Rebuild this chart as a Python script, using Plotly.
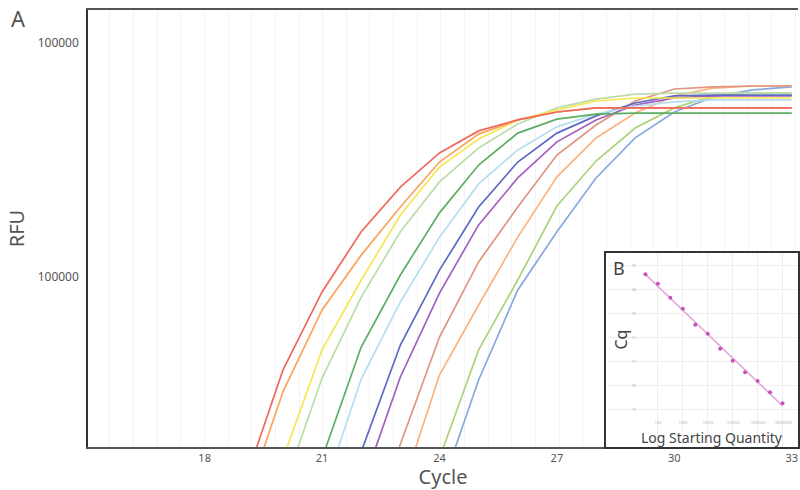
import numpy as np
import plotly.graph_objects as go

# ---------------- data ----------------
cycles = [18, 19, 20, 21, 22, 23, 24, 25, 26, 27, 28, 29, 30, 31, 32, 33]

red = [None, 1290, 4000, 8630, 15600, 24200, 33900, 42100, 46900, 50700, 52800, 52800, 52800, 52800, 52800, 52800]
orange = [None, 1040, 3230, 7230, 12400, 19900, 31000, 40800, 46900, 50700, 52800, 52800, 52800, 52800, 52800, 52800]
yellow = [None, None, 1670, 4880, 9710, 18400, 29500, 38900, 46900, 51700, 56500, 58200, 58200, 58200, 58200, 58200]
lightgreen = [None, None, 1220, 3700, 8210, 15600, 25500, 35600, 45100, 52800, 57600, 60500, 61100, 61100, 61100, 61100]
green = [None, None, None, 1680, 5020, 10200, 18800, 30100, 41200, 47300, 49700, 50200, 50200, 50200, 50200, 50200]
lightblue = [None, None, None, 1160, 3660, 7820, 14800, 25000, 34900, 43800, 49700, 53800, 56000, 57100, 57100, 57100]
blue = [None, None, None, None, 1790, 5120, 10700, 19900, 31000, 41200, 48800, 55400, 59400, 59900, 59900, 59900]
purple = [None, None, None, None, 1240, 3740, 8540, 16700, 26500, 37800, 46900, 54300, 58200, 59400, 59400, 59400]
salmon = [None, None, None, None, 655, 1930, 5540, 11600, 19900, 33200, 44600, 56500, 63600, 64900, 65500, 65500]
orange2 = [None, None, None, None, None, 1180, 3810, 7590, 14800, 26800, 39300, 50200, 59400, 64200, 65500, 65500]
yellowgreen = [None, None, None, None, None, None, 1680, 4880, 9710, 20100, 31300, 43300, 52800, 59400, 61100, 61100]
cornflower = [None, None, None, None, None, None, 1190, 3630, 8800, 15600, 26500, 39300, 50700, 58800, 63000, 64900]

series = [
    ("cornflower", cornflower, "#86a9e0"),
    ("yellowgreen", yellowgreen, "#add27a"),
    ("orange2", orange2, "#fdb27e"),
    ("salmon", salmon, "#e0957f"),
    ("purple", purple, "#a45fc0"),
    ("blue", blue, "#5f68c2"),
    ("lightblue", lightblue, "#b3dff0"),
    ("green", green, "#5caf62"),
    ("lightgreen", lightgreen, "#bcdcaa"),
    ("yellow", yellow, "#f6e651"),
    ("orange", orange, "#f9a55c"),
    ("red", red, "#f0695e"),
]

y_tickvals = [10000, 100000]
y_ticktext = ["100000", "100000"]
x_tickvals = [18, 21, 24, 27, 30, 33]

# inset (standard curve)
log_qty = [1.5, 2.0, 2.5, 3.0, 3.5, 4.0, 4.5, 5.0, 5.5, 6.0, 6.5, 7.0]
cq = [24.65, 24.26, 23.68, 23.22, 22.55, 22.18, 21.55, 21.05, 20.57, 20.21, 19.74, 19.28]
inset_xticks = [2, 3, 4, 5, 6, 7]
inset_xtext = ["100", "1000", "10000", "100000", "1000000", "10000000"]
inset_yticks = [19, 20, 21, 22, 23, 24, 25]

FONT = "Noto Sans"
GREY = "#555555"

fig = go.Figure()
for name, vals, col in series:
    fig.add_trace(go.Scatter(x=cycles, y=vals, mode="lines", name=name,
                             line=dict(color=col, width=1.7),
                             xaxis="x", yaxis="y", showlegend=False))

slope, intercept = np.polyfit(log_qty, cq, 1)
fit_x = [log_qty[0], log_qty[-1]]
fit_y = [slope * v + intercept for v in fit_x]
fig.add_trace(go.Scatter(x=fit_x, y=fit_y, mode="lines",
                         line=dict(color="#e4a9dd", width=1.6),
                         xaxis="x2", yaxis="y2", showlegend=False))
fig.add_trace(go.Scatter(x=log_qty, y=cq, mode="markers",
                         marker=dict(color="#c454b8", size=4),
                         xaxis="x2", yaxis="y2", showlegend=False))

fig.update_layout(
    width=800, height=490,
    margin=dict(l=88, r=0, t=10, b=43),
    paper_bgcolor="white", plot_bgcolor="white",
    font=dict(family=FONT, color=GREY),
    xaxis=dict(
        domain=[0, 1], range=[15.02, 33.16],
        tickvals=x_tickvals, ticks="", showgrid=False,
        minor=dict(tick0=15.58, dtick=0.604, showgrid=True,
                   gridcolor="#f3f3f3", gridwidth=1),
        showline=True, linecolor="#555555", linewidth=2, mirror=True,
        tickfont=dict(size=11, color=GREY),
        title=dict(text="Cycle", font=dict(size=20, color=GREY), standoff=5),
        zeroline=False, automargin=False,
    ),
    yaxis=dict(
        domain=[0, 1], type="log", range=[3.2735, 5.141],
        tickvals=y_tickvals, ticktext=y_ticktext, ticks="",
        showgrid=False,
        showline=True, linecolor="#333333", linewidth=1.5,
        tickfont=dict(size=12, color=GREY), ticklabelstandoff=5,
        title=dict(text="RFU", font=dict(size=20, color=GREY), standoff=8),
        zeroline=False, automargin=False,
    ),
    xaxis2=dict(
        domain=[(607 - 88) / 712, 1], anchor="y2",
        range=[-0.1, 7.62],
        tickvals=inset_xticks, ticktext=inset_xtext, ticks="",
        ticklabelposition="inside", ticklabelstandoff=20,
        tickfont=dict(size=4, color="#b5b5b5"),
        showgrid=True, gridcolor="#eeeeee", gridwidth=1,
        showline=True, linecolor="#333333", linewidth=1.5, mirror=True,
        zeroline=False,
    ),
    yaxis2=dict(
        domain=[0, (447 - 253) / 437], anchor="x2",
        range=[17.458, 25.54],
        tickvals=inset_yticks, ticks="",
        ticklabelposition="inside", ticklabelstandoff=24,
        tickfont=dict(size=4, color="#b5b5b5"),
        showgrid=True, gridcolor="#eeeeee", gridwidth=1,
        showline=True, linecolor="#333333", linewidth=1.5, mirror=True,
        zeroline=False,
    ),
    annotations=[
        dict(text="A", xref="paper", yref="paper", x=(18 - 88) / 712, y=(447 - 18) / 437,
             showarrow=False, xanchor="center", yanchor="middle",
             font=dict(size=22, color=GREY, family=FONT)),
        dict(text="B", xref="paper", yref="paper", x=(620 - 88) / 712, y=(447 - 268) / 437,
             showarrow=False, xanchor="center", yanchor="middle",
             font=dict(size=18, color="#444444", family=FONT)),
        dict(text="Cq", xref="paper", yref="paper", x=(622 - 88) / 712, y=(447 - 340) / 437,
             showarrow=False, xanchor="center", yanchor="middle", textangle=-90,
             font=dict(size=16, color="#444444", family=FONT)),
        dict(text="Log Starting Quantity", xref="paper", yref="paper",
             x=(714 - 88) / 712, y=(447 - 437) / 437,
             showarrow=False, xanchor="center", yanchor="middle",
             font=dict(size=14, color="#444444", family=FONT)),
    ],
)

fig.write_html("out.html", config={"displayModeBar": False},
               post_script="document.body.style.margin='0px';document.body.style.overflow='hidden';")
